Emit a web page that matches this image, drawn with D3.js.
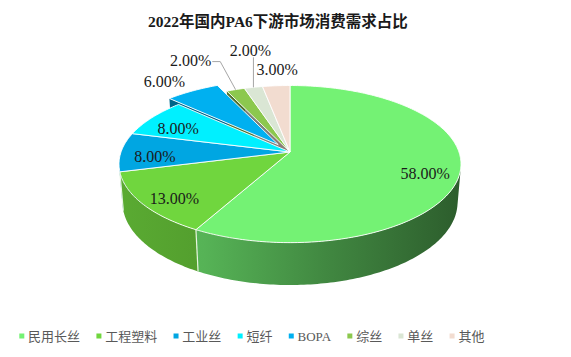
<!DOCTYPE html>
<html><head><meta charset="utf-8">
<script src="https://cdn.jsdelivr.net/npm/d3@7/dist/d3.min.js"></script>
<style>body{margin:0;background:#fff}svg{display:block}</style>
</head><body><svg id="c" width="571" height="357"></svg>
<script>
// ---------- data ----------
const chartTitle = "2022年国内PA6下游市场消费需求占比";
const categories = ["民用长丝","工程塑料","工业丝","短纤","BOPA","综丝","单丝","其他"];
const values = [58, 13, 8, 8, 6, 2, 2, 3];
const valueLabels = ["58.00%","13.00%","8.00%","8.00%","6.00%","2.00%","2.00%","3.00%"];
const topColors = ["#74f274","#70d63e","#00a6e2","#00f0ff","#00b0f0","#8cc84e","#dae6d4","#f2dcd0"];
const explode = [0, 0, 0, 0, 0.12, 0, 0, 0];

// label layout (inside: radius on top face; outside: nudge from rim midpoint)
const labelInside = [true, true, true, true, false, false, false, false];
const labelNudge = [[0,6],[0,6],[0,4],[0,4],[-28,-10],[-45,-29],[-3,-37],[1,-16]];
const leaderKind = [null, null, null, null, null, "elbow", "vertical", null];

// ---------- 3D projection ----------
const T = 0.256, PHI = 27*Math.PI/180, DIST = 5.8, FOC = 980, CX = 290, CY = 152;
const sP = Math.sin(PHI), cP = Math.cos(PHI);
function proj(x, y, z){
  const up = y*cP - z*sP;
  const depth = DIST - (y*sP + z*cP);
  return [CX + FOC*x/depth, CY - FOC*up/depth];
}
function pt(a, r, y, off){ return proj(off[0] + r*Math.sin(a), y, off[1] - r*Math.cos(a)); }

const svg = d3.select("#c");
const defs = svg.append("defs");
const line = d3.line();

const arcs = d3.pie().sort(null).value(d => d)(values);
arcs.forEach((d, i) => {
  const mid = (d.startAngle + d.endAngle)/2;
  d.off = [explode[i]*Math.sin(mid), -explode[i]*Math.cos(mid)];
  d.mid = mid; d.i = i;
});

function arcPts(a0, a1, r, y, off){
  const n = Math.max(2, Math.ceil((a1 - a0)/(Math.PI/180)));
  return d3.range(n + 1).map(k => pt(a0 + (a1 - a0)*k/n, r, y, off));
}

// gradients for outer walls
const xScaleGrad = d3.scaleLinear().domain([0, 1]).range([118, 463]);
arcs.forEach((d, i) => {
  const base = d3.rgb(topColors[i]);
  const g = defs.append("linearGradient").attr("id", "wg" + i)
    .attr("gradientUnits", "userSpaceOnUse")
    .attr("x1", xScaleGrad(0)).attr("x2", xScaleGrad(1)).attr("y1", 0).attr("y2", 0);
  [[0, 0.80], [0.25, 0.74], [0.6, 0.56], [1, 0.38]].forEach(([o, k]) => {
    g.append("stop").attr("offset", o)
      .attr("stop-color", d3.rgb(base.r*k, base.g*k, base.b*k).formatHex());
  });
});

const gPie = svg.append("g");
const camZ = DIST*cP;

// radial walls (only those facing the camera)
arcs.forEach((d, i) => {
  [[d.startAngle, -1], [d.endAngle, 1]].forEach(([a, sgn]) => {
    const nx = sgn*Math.cos(a), nz = sgn*Math.sin(a);
    const px = d.off[0] + 0.5*Math.sin(a), pz = d.off[1] - 0.5*Math.cos(a);
    if (nx*(0 - px) + nz*(camZ - pz) <= 0) return;
    const poly = [pt(a, 0, 0, d.off), pt(a, 1, 0, d.off), pt(a, 1, -T, d.off), pt(a, 0, -T, d.off)];
    const c = d3.rgb(topColors[i]).darker(1.6);
    gPie.append("path").attr("d", line(poly) + "Z").attr("fill", c.formatHex());
  });
});

// outer walls (visible front range)
const vis = Math.acos(1/camZ);
const visA0 = Math.PI - vis, visA1 = Math.PI + vis;
arcs.forEach((d, i) => {
  const a0 = Math.max(d.startAngle, visA0), a1 = Math.min(d.endAngle, visA1);
  if (a1 <= a0) return;
  const top = arcPts(a0, a1, 1, 0, d.off);
  const bot = arcPts(a0, a1, 1, -T, d.off).reverse();
  gPie.append("path").attr("d", line(top.concat(bot)) + "Z").attr("fill", `url(#wg${i})`);
});
// wall separators
arcs.forEach((d) => {
  const a = d.startAngle;
  if (a > visA0 && a < visA1) {
    gPie.append("path").attr("d", line([pt(a, 1, 0, d.off), pt(a, 1, -T, d.off)]))
      .attr("stroke", "#e8f5e0").attr("stroke-width", 1.2).attr("fill", "none");
  }
});

// top faces
arcs.forEach((d, i) => {
  const pts = [pt(0, 0, 0, d.off)].concat(arcPts(d.startAngle, d.endAngle, 1, 0, d.off));
  gPie.append("path").attr("d", line(pts) + "Z")
    .attr("fill", topColors[i]).attr("stroke", "#ffffff").attr("stroke-width", 0.9)
    .attr("stroke-linejoin", "round");
});

// data labels
const gLab = svg.append("g").attr("font-family", "'Liberation Serif','Times New Roman',serif")
  .attr("font-size", 16).attr("fill", "#1a1a1a");
arcs.forEach((d, i) => {
  let x, y;
  const rimMid = pt(d.mid, 1, 0, d.off);
  if (labelInside[i]) {
    [x, y] = pt(d.mid, 0.8, 0, d.off);
  } else {
    [x, y] = rimMid;
  }
  x += labelNudge[i][0]; y += labelNudge[i][1];
  const t = gLab.append("text").attr("x", x).attr("y", y).attr("dy", "0.35em")
    .attr("text-anchor", "middle").text(valueLabels[i]);
  const w = t.node().getComputedTextLength();
  if (leaderKind[i] === "elbow") {
    const p = [[x + w/2 + 1, y + 1], [x + w/2 + 9, y + 1], rimMid];
    svg.append("path").attr("d", line(p)).attr("fill", "none").attr("stroke", "#a6a6a6").attr("stroke-width", 1);
  } else if (leaderKind[i] === "vertical") {
    const p = [[rimMid[0], y + 7], rimMid];
    svg.append("path").attr("d", line(p)).attr("fill", "none").attr("stroke", "#a6a6a6").attr("stroke-width", 1);
  }
});

// title
svg.append("text").attr("x", 278).attr("y", 27).attr("text-anchor", "middle")
  .attr("font-family", "'Liberation Serif','Noto Sans CJK SC',serif")
  .attr("font-weight", "bold").attr("font-size", 15.5).attr("fill", "#1a1a1a")
  .text(chartTitle);

// legend
const gLeg = svg.append("g").attr("font-family", "'Liberation Serif','Noto Sans CJK SC',serif")
  .attr("font-size", 13).attr("fill", "#595959");
let lx = 19.3;
categories.forEach((c, i) => {
  gLeg.append("rect").attr("x", lx).attr("y", 333.5).attr("width", 5).attr("height", 5)
    .attr("fill", topColors[i]);
  const t = gLeg.append("text").attr("x", lx + 8.8).attr("y", 336).attr("dy", "0.35em").text(c);
  lx += 8.8 + t.node().getComputedTextLength() + 16.3;
});
</script></body></html>
